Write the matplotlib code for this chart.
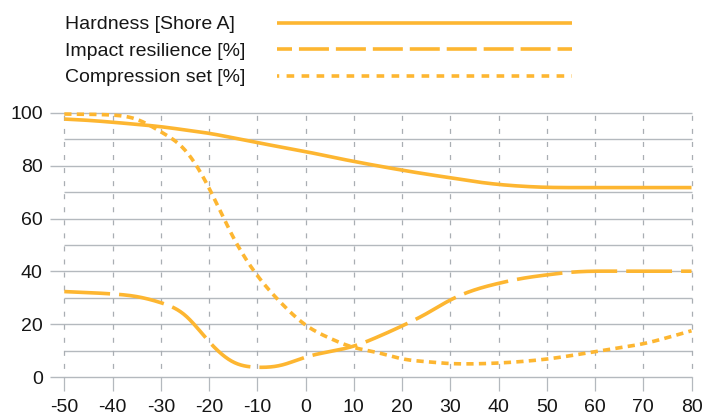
import numpy as np
import matplotlib
matplotlib.use("Agg")
import matplotlib.pyplot as plt
from matplotlib.lines import Line2D

plt.rcParams['font.family'] = ['Liberation Sans', 'DejaVu Sans']
plt.rcParams['lines.scale_dashes'] = False
plt.rcParams['axes.unicode_minus'] = False

# ---------------- data ----------------
temperature = [-50, -45, -40, -35, -30, -25, -20, -15, -10, -5, 0, 5, 10, 15,
               20, 25, 30, 35, 40, 45, 50, 55, 60, 65, 70, 75, 80]
hardness = [97.6, 97.1, 96.4, 95.6, 94.7, 93.5, 92.2, 90.5, 88.7, 87.0, 85.3,
            83.4, 81.6, 79.9, 78.3, 76.8, 75.4, 74.0, 72.9, 72.2, 71.8, 71.7,
            71.7, 71.7, 71.7, 71.7, 71.7]
impact_resilience = [32.4, 32.0, 31.5, 30.5, 28.2, 23.5, 13.5, 5.8, 3.8, 4.6,
                     7.6, 9.7, 11.8, 15.3, 19.4, 24.0, 29.2, 33.0, 35.5, 37.4,
                     38.7, 39.7, 40.1, 40.1, 40.1, 40.1, 40.1]
compression_set = [99.5, 99.4, 99.1, 97.5, 92.8, 85.9, 71.5, 53.0, 38.5, 28.0,
                   19.8, 14.8, 11.3, 9.3, 7.0, 5.9, 5.2, 5.1, 5.4, 6.0, 6.9,
                   8.2, 9.7, 11.1, 12.7, 15.0, 17.6]
series_labels = ["Hardness [Shore A]", "Impact resilience [%]", "Compression set [%]"]
x_ticks = [-50, -40, -30, -20, -10, 0, 10, 20, 30, 40, 50, 60, 70, 80]
y_ticks = [0, 20, 40, 60, 80, 100]
y_minor = [10, 30, 50, 70, 90]


def smooth(x, y, xn):
    """Natural cubic spline through the read points (used only for smooth drawing)."""
    x = np.asarray(x, float)
    y = np.asarray(y, float)
    n = len(x)
    h = np.diff(x)
    A = np.zeros((n, n))
    b = np.zeros(n)
    A[0, 0] = A[-1, -1] = 1.0
    for i in range(1, n - 1):
        A[i, i - 1] = h[i - 1]
        A[i, i] = 2 * (h[i - 1] + h[i])
        A[i, i + 1] = h[i]
        b[i] = 3 * ((y[i + 1] - y[i]) / h[i] - (y[i] - y[i - 1]) / h[i - 1])
    c = np.linalg.solve(A, b)
    bb = (y[1:] - y[:-1]) / h - h * (2 * c[:-1] + c[1:]) / 3
    d = (c[1:] - c[:-1]) / (3 * h)
    idx = np.clip(np.searchsorted(x, xn) - 1, 0, n - 2)
    t = xn - x[idx]
    return y[idx] + bb[idx] * t + c[idx] * t**2 + d[idx] * t**3


W, H = 703, 415
fig = plt.figure(figsize=(W / 100, H / 100), dpi=100)
ax = fig.add_axes([49.8 / W, (H - 377.3) / H, (691.5 - 49.8) / W, (377.3 - 112.7) / H])
ax.set_xlim(-53, 80)
ax.set_ylim(0, 100)
for s in ax.spines.values():
    s.set_visible(False)

grid_c = '#B4B9BE'
vgrid_c = '#A9AEB3'
# horizontal grid
ax.hlines(y_ticks, -53, 80, color=grid_c, lw=1.0, zorder=1, clip_on=False)
ax.hlines(y_minor, -50, 80, color=grid_c, lw=1.0, zorder=1, clip_on=False)
# vertical dashed grid
for xv in x_ticks:
    ax.plot([xv, xv], [100, 0], color=vgrid_c, lw=0.9, zorder=1,
            linestyle=(7.7, (3.6, 5.8)), clip_on=False)

ax.set_xticks(x_ticks)
ax.set_yticks(y_ticks)
ax.tick_params(axis='x', length=10, width=0.9, color=grid_c, pad=5.5,
               labelsize=14, labelcolor='#161616')
ax.tick_params(axis='y', length=0, pad=5, labelsize=14, labelcolor='#161616')

color = '#FDB631'
lw = 2.6
xf = np.linspace(-50, 80, 800)
ax.plot(xf, smooth(temperature, hardness, xf), color=color, lw=lw,
        solid_capstyle='butt', zorder=3, clip_on=False)
ax.plot(xf, smooth(temperature, impact_resilience, xf), color=color, lw=lw,
        linestyle=(0, (33, 6.5)), dash_capstyle='butt', zorder=3, clip_on=False)
ax.plot(xf, smooth(temperature, compression_set, xf), color=color, lw=lw,
        linestyle=(0, (5.2, 3.8)), dash_capstyle='butt', zorder=3, clip_on=False)

# legend (labels on the left, long sample lines on the right)
rows = [22.7, 49.0, 75.7]
styles = ['-', (10.8, (21.6, 5.0)), (3.9, (5.5, 5.3))]
for lab, yr, st in zip(series_labels, rows, styles):
    fig.text(65 / W, 1 - yr / H, lab, fontsize=14, color='#161616',
             ha='left', va='center_baseline')
    ln = Line2D([277 / W, 572 / W], [1 - yr / H, 1 - yr / H], transform=fig.transFigure,
                color=color, lw=lw, linestyle=st, solid_capstyle='butt',
                dash_capstyle='butt')
    fig.add_artist(ln)

fig.savefig('out.png', dpi=100)
